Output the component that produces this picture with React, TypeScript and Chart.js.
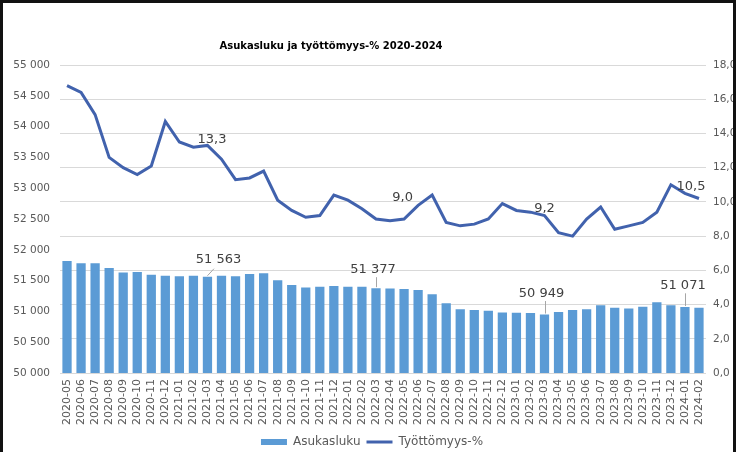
import React, { useEffect, useRef } from 'react';
import { Chart, registerables } from 'chart.js';

Chart.register(...registerables);

const titleText = 'Asukasluku ja työttömyys-% 2020-2024';

const categories = [
  '2020-05', '2020-06', '2020-07', '2020-08', '2020-09', '2020-10', '2020-11', '2020-12',
  '2021-01', '2021-02', '2021-03', '2021-04', '2021-05', '2021-06', '2021-07', '2021-08',
  '2021-09', '2021-10', '2021-11', '2021-12', '2022-01', '2022-02', '2022-03', '2022-04',
  '2022-05', '2022-06', '2022-07', '2022-08', '2022-09', '2022-10', '2022-11', '2022-12',
  '2023-01', '2023-02', '2023-03', '2023-04', '2023-05', '2023-06', '2023-07', '2023-08',
  '2023-09', '2023-10', '2023-11', '2023-12', '2024-01', '2024-02',
];

const population = [
  51820, 51780, 51780, 51705, 51630, 51640, 51596, 51580,
  51569, 51580, 51563, 51580, 51569, 51607, 51618, 51504,
  51428, 51390, 51400, 51412, 51400, 51400, 51377, 51372,
  51363, 51347, 51277, 51131, 51033, 51022, 51011, 50981,
  50979, 50976, 50949, 50990, 51022, 51033, 51098, 51060,
  51049, 51075, 51147, 51098, 51071, 51060,
];

const unemployment = [
  16.8, 16.4, 15.1, 12.6, 12.0, 11.6, 12.1, 14.7,
  13.5, 13.2, 13.3, 12.5, 11.3, 11.4, 11.8, 10.1,
  9.5, 9.1, 9.2, 10.4, 10.1, 9.6, 9.0, 8.9,
  9.0, 9.8, 10.4, 8.8, 8.6, 8.7, 9.0, 9.9,
  9.5, 9.4, 9.2, 8.2, 8.0, 9.0, 9.7, 8.4,
  8.6, 8.8, 9.4, 11.0, 10.5, 10.2,
];

const populationAxis = [50000, 55000, 500];
const unemploymentAxis = [0, 18, 2];

const barLabelIdx = [10, 22, 34, 44];
const lineLabelIdx = [10, 24, 34, 44];

const seriesNames = ['Asukasluku', 'Työttömyys-%'];

const BAR_COLOR = '#5B9BD5';
const LINE_COLOR = '#4162AD';
const TEXT_COLOR = '#595959';
const FONT = '"DejaVu Sans", Verdana, sans-serif';

const fmtPop = (v: number) => {
  const s = Math.round(v).toString();
  return s.slice(0, -3) + ' ' + s.slice(-3);
};
const fmtPct = (v: number) => v.toFixed(1).replace('.', ',');

const titlePlugin = {
  id: 'fixedTitle',
  afterDraw(chart: any) {
    const ctx = chart.ctx;
    ctx.save();
    ctx.font = 'bold 10px ' + FONT;
    ctx.fillStyle = '#000000';
    ctx.textAlign = 'center';
    ctx.textBaseline = 'middle';
    ctx.fillText(titleText, 331, 46);
    ctx.restore();
  },
};

const valueLabelPlugin = {
  id: 'valueLabels',
  afterDatasetsDraw(chart: any) {
    const ctx = chart.ctx;
    const barMeta = chart.getDatasetMeta(0);
    const lineMeta = chart.getDatasetMeta(1);
    ctx.save();
    ctx.font = '13px ' + FONT;
    ctx.fillStyle = '#404040';
    ctx.textAlign = 'center';
    ctx.textBaseline = 'alphabetic';

    const barOffsets = [[11, -14], [-3, -15], [-3, -17.5], [-2, -17.7]];
    barLabelIdx.forEach((idx, k) => {
      const el = barMeta.data[idx];
      const [dx, dy] = barOffsets[k];
      const tx = el.x + dx;
      const ty = el.y + dy;
      ctx.strokeStyle = '#a6a6a6';
      ctx.lineWidth = 1;
      ctx.beginPath();
      if (k === 0) {
        ctx.moveTo(el.x, el.y - 1);
        ctx.lineTo(el.x + 6.5, el.y - 8);
      } else {
        ctx.moveTo(Math.round(el.x) + 0.5, ty + 4);
        ctx.lineTo(Math.round(el.x) + 0.5, el.y - 1);
      }
      ctx.stroke();
      ctx.fillText(fmtPop(population[idx]), tx, ty);
    });

    const lineOffsets = [[4.5, -2], [-1.5, -17.7], [0, -3.6], [6, -3.7]];
    lineLabelIdx.forEach((idx, k) => {
      const el = lineMeta.data[idx];
      const [dx, dy] = lineOffsets[k];
      ctx.fillText(fmtPct(unemployment[idx]), el.x + dx, el.y + dy);
    });
    ctx.restore();
  },
};

export default function App() {
  const canvasRef = useRef<HTMLCanvasElement | null>(null);

  useEffect(() => {
    document.body.style.margin = '0';
    const canvas = canvasRef.current;
    if (!canvas) return;
    const chart = new Chart(canvas, {
      type: 'bar',
      data: {
        labels: categories,
        datasets: [
          {
            type: 'bar',
            label: seriesNames[0],
            data: population,
            backgroundColor: BAR_COLOR,
            yAxisID: 'y',
            barPercentage: 0.66,
            categoryPercentage: 1,
            order: 1,
          },
          {
            type: 'line',
            label: seriesNames[1],
            data: unemployment,
            borderColor: LINE_COLOR,
            backgroundColor: LINE_COLOR,
            borderWidth: 3,
            pointRadius: 0,
            tension: 0,
            yAxisID: 'y1',
            order: 0,
          },
        ],
      } as any,
      options: {
        responsive: false,
        animation: false,
        events: [],
        layout: { padding: { top: 65, left: 8, right: 0, bottom: -6 } },
        plugins: {
          title: { display: false },
          tooltip: { enabled: false },
          legend: {
            display: true,
            position: 'bottom',
            reverse: true,
            labels: {
              usePointStyle: true,
              pointStyleWidth: 26,
              boxHeight: 6,
              padding: 6,
              color: TEXT_COLOR,
              font: { family: FONT, size: 12 },
              generateLabels: (chart: any) => {
                const items = (Chart.defaults.plugins.legend.labels as any).generateLabels(chart);
                return items.map((it: any) =>
                  it.datasetIndex === 0
                    ? { ...it, pointStyle: 'rect', lineWidth: 0, fillStyle: BAR_COLOR, strokeStyle: BAR_COLOR, fontColor: TEXT_COLOR }
                    : { ...it, pointStyle: 'line', lineWidth: 3, fillStyle: LINE_COLOR, strokeStyle: LINE_COLOR, fontColor: TEXT_COLOR }
                );
              },
            },
          },
        },
        scales: {
          x: {
            offset: true,
            grid: { display: false, drawTicks: false },
            border: { display: false },
            ticks: {
              autoSkip: false,
              maxRotation: 90,
              minRotation: 90,
              padding: 6,
              color: TEXT_COLOR,
              font: { family: FONT, size: 11 },
            },
            afterFit: (s: any) => { s.height = 57; },
          },
          y: {
            position: 'left',
            min: populationAxis[0],
            max: populationAxis[1],
            grid: { display: false, drawTicks: false },
            border: { display: false },
            ticks: {
              stepSize: populationAxis[2],
              padding: 10,
              color: TEXT_COLOR,
              font: { family: FONT, size: 10.5 },
              callback: (v: any) => fmtPop(Number(v)),
            },
            afterFit: (s: any) => { s.width = 52; },
          },
          y1: {
            position: 'right',
            min: unemploymentAxis[0],
            max: unemploymentAxis[1],
            grid: { color: '#d9d9d9', lineWidth: 1, drawTicks: false },
            border: { display: false },
            ticks: {
              stepSize: unemploymentAxis[2],
              padding: 7,
              color: TEXT_COLOR,
              font: { family: FONT, size: 10.5 },
              callback: (v: any) => fmtPct(Number(v)),
            },
            afterFit: (s: any) => { s.width = 30; },
          },
        },
      } as any,
      plugins: [titlePlugin, valueLabelPlugin],
    });
    return () => chart.destroy();
  }, []);

  return (
    <div style={{ position: 'relative', width: 736, height: 452, background: '#ffffff', overflow: 'hidden' }}>
      <canvas ref={canvasRef} width={736} height={452} style={{ display: 'block' }} />
      <div
        style={{
          position: 'absolute',
          left: 0,
          top: 0,
          width: 736,
          height: 452,
          boxSizing: 'border-box',
          borderTop: '3px solid #111',
          borderLeft: '3px solid #111',
          borderRight: '3px solid #111',
          pointerEvents: 'none',
        }}
      />
    </div>
  );
}
